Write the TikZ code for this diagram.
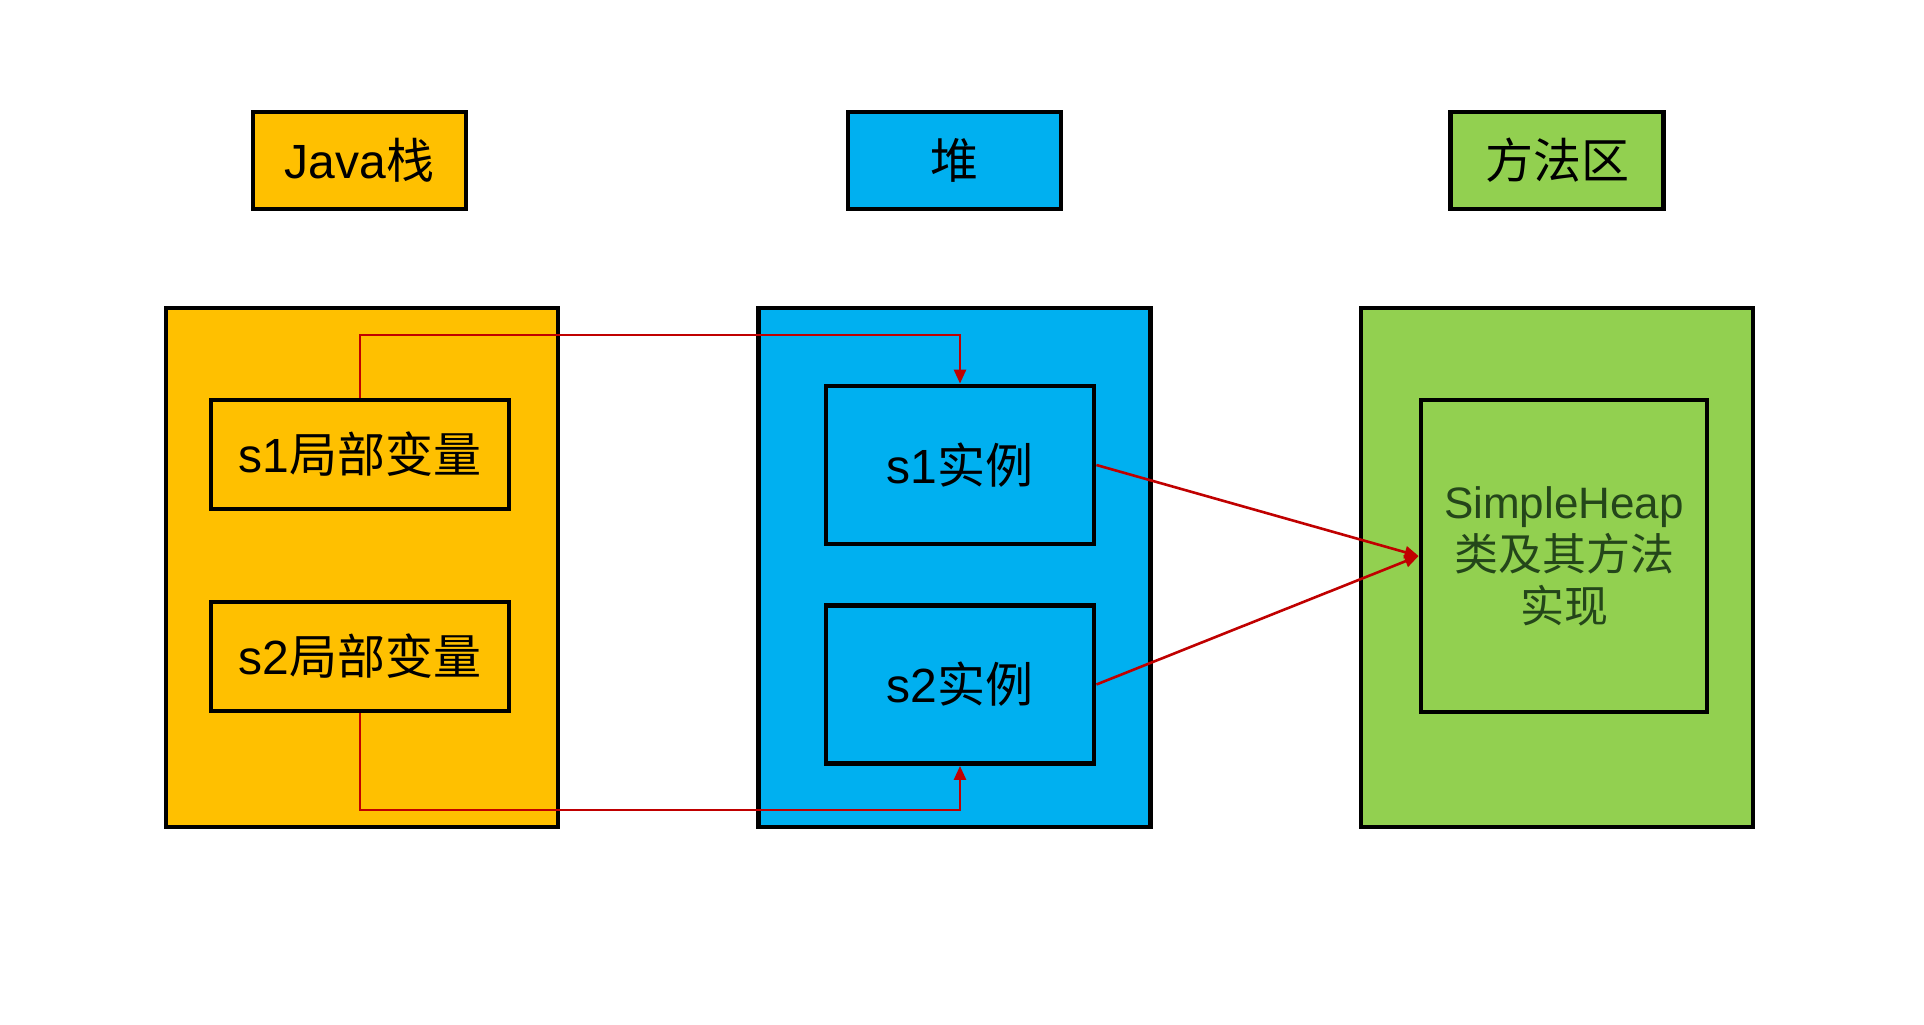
\documentclass[tikz,border=0pt]{standalone}
\usepackage{fontspec}
\setmainfont{Liberation Sans}
\newfontfamily\cjk{Noto Sans CJK SC}
\usetikzlibrary{
  arrows.meta,
  positioning
}
\definecolor{jvStack}{HTML}{FFC000}
\definecolor{jvHeap}{HTML}{00B0F0}
\definecolor{jvMethod}{HTML}{92D050}
\definecolor{jvRef}{HTML}{C00000}
\definecolor{jvDark}{HTML}{24461A}
\tikzset{
  jvnode/.style={
    draw, line width=2.4pt, inner sep=0pt, align=center,
    font=\fontsize{24}{28}\selectfont
  },
  titlebox/.style={jvnode, minimum width=106.5pt, minimum height=48.5pt},
  areabox/.style={jvnode, minimum width=196pt, minimum height=259.5pt},
  varbox/.style={jvnode, fill=jvStack, minimum width=149pt, minimum height=54.5pt},
  objbox/.style={jvnode, fill=jvHeap, minimum width=134pt, minimum height=79pt},
  implbox/.style={jvnode, fill=jvMethod, minimum width=143pt, minimum height=156pt,
    text=jvDark, font=\fontsize{22}{26}\selectfont},
  ref/.style={-{Triangle[length=7pt, width=6pt]}, line width=1.3pt, jvRef}
}

\begin{document}
\begin{tikzpicture}[x=0.5pt, y=-0.5pt]
  \fill[white] (0,0) rectangle (1924,1024);
  \useasboundingbox (0,0) rectangle (1924,1024);

  \node[titlebox, fill=jvStack] (stacktitle) at (359.5,160.5) {Java{\cjk 栈}};
  \node[titlebox, fill=jvHeap] (heaptitle) at (954.5,160.5) {\cjk 堆};
  \node[titlebox, fill=jvMethod] (methodtitle) at (1557,160.5) {\cjk 方法区};

  \node[areabox, fill=jvStack] (stack) at (362,567.5) {};
  \node[areabox, fill=jvHeap] (heap) at (954.5,567.5) {};
  \node[areabox, fill=jvMethod] (method) at (1557,567.5) {};

  \node[varbox] (s1var) at (360,454.5) {s1{\cjk 局部变量}};
  \node[varbox] (s2var) at (360,656.5) {s2{\cjk 局部变量}};
  \node[objbox] (s1obj) at (960,465) {s1{\cjk 实例}};
  \node[objbox] (s2obj) at (960,684.5) {s2{\cjk 实例}};
  \node[implbox] (impl) at (1564,556) {SimpleHeap\\{\cjk 类及其方法}\\{\cjk 实现}};

  \coordinate (topline) at (0,335);
  \coordinate (bottomline) at (0,810);
  \draw[ref] (s1var.north) |- (topline -| s1obj) -- (s1obj.north);
  \draw[ref] (s2var.south) |- (bottomline -| s2obj) -- (s2obj.south);
  \draw[ref] (s1obj.east) -- (impl.west);
  \draw[ref] (s2obj.east) -- (impl.west);
\end{tikzpicture}
\end{document}
